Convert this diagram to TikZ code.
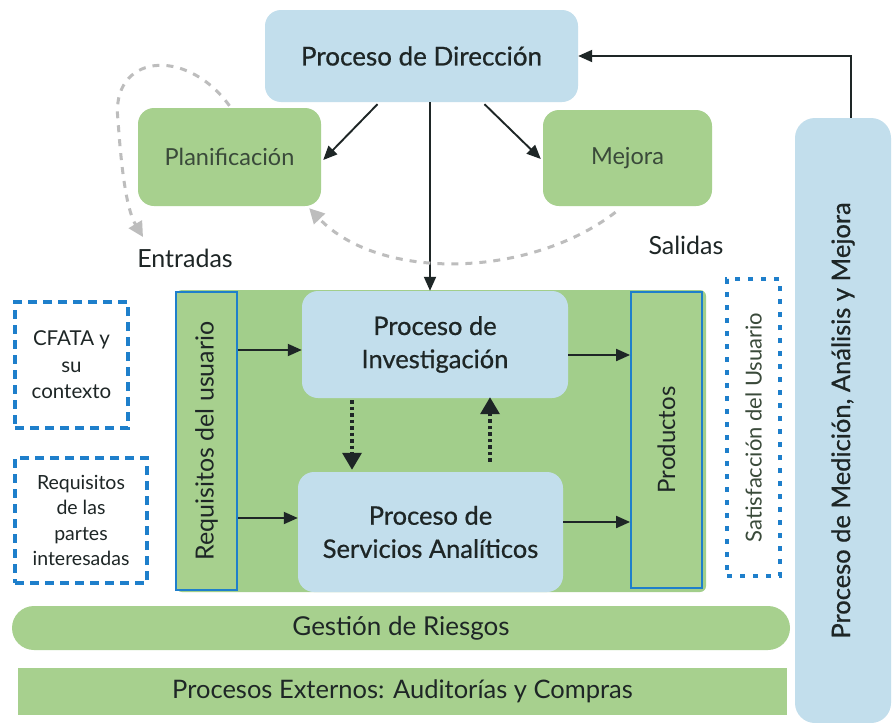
\documentclass[tikz,border=0pt]{standalone}
\usepackage{fontspec}
\setmainfont{Lato}
\newfontfamily\medfont{Lato}[FakeBold=0.7]
\usetikzlibrary{arrows.meta,calc}
\definecolor{procblue}{HTML}{C2DEEC}
\definecolor{procgreen}{HTML}{A7D08E}
\definecolor{areagreen}{HTML}{A2CE8B}
\definecolor{edgeblue}{HTML}{1E7FCB}
\definecolor{txtdark}{HTML}{1E2626}
\definecolor{txtsoft}{HTML}{3A4A3A}
\definecolor{loopgray}{HTML}{BDBDBD}
\newcommand{\fsz}[1]{\fontsize{#1}{1.3\dimexpr #1pt\relax}\selectfont}
\tikzset{
  bluebox/.style={fill=procblue, rounded corners=16pt, inner sep=0pt, text=txtdark, align=center},
  greenbox/.style={fill=procgreen, rounded corners=16pt, inner sep=0pt, text=txtsoft, align=center},
  reqbar/.style={fill=procgreen, draw=edgeblue, line width=1.8pt, inner sep=0pt},
  dashbox/.style={draw=edgeblue, line width=3.5pt, dash pattern=on 9pt off 6pt, fill=white, inner sep=0pt, align=center, text=txtdark},
  flow/.style={draw=txtdark, line width=1.9pt, -{Triangle[length=14pt,width=12pt]}},
  dotflow/.style={draw=txtdark, line width=3.5pt, dash pattern=on 3.5pt off 3pt, -{Triangle[length=17pt,width=19pt]}},
  loop/.style={draw=loopgray, line width=3pt, dash pattern=on 7pt off 7pt, -{Triangle[length=15pt,width=15pt]}},
  lbl/.style={text=txtdark, inner sep=0pt}
}
\begin{document}
\begin{tikzpicture}[x=1pt,y=-1pt]
\useasboundingbox (0,0) rectangle (892,723);
\fill[white] (0,0) rectangle (892,723);

% management level
\node[bluebox, minimum width=313pt, minimum height=92pt, font=\medfont\fsz{26}] (dir) at (421.5,56) {Proceso de Dirección};
\node[greenbox, minimum width=183pt, minimum height=98pt, font=\fsz{23.5}] (plan) at (229.5,157) {Planificación};
\node[greenbox, minimum width=169pt, minimum height=96pt, font=\fsz{23.5}] (mej) at (627.5,158) {Mejora};

% measurement column
\node[bluebox, rounded corners=20pt, minimum width=96pt, minimum height=605pt] (med) at (843,420.5) {};
\node[lbl, rotate=90, font=\medfont\fsz{25.5}] (medtxt) at (med.center) {Proceso de Medición, Análisis y Mejora};

% realisation area
\node[fill=areagreen, rounded corners=6pt, minimum width=530pt, minimum height=302pt, inner sep=0pt] (area) at (441,441) {};
\node[reqbar, minimum width=61pt, minimum height=298pt] (req) at (206.5,441) {};
\node[lbl, rotate=90, font=\fsz{25}] (reqtxt) at (req.center) {Requisitos del usuario};
\node[reqbar, minimum width=71pt, minimum height=296pt] (prod) at (666.5,440) {};
\node[lbl, rotate=90, font=\fsz{24}] (prodtxt) at (prod.center) {Productos};
\node[bluebox, minimum width=266pt, minimum height=107pt, font=\medfont\fsz{25.5}] (inv) at (435,344.5) {Proceso de\\Investigación};
\node[bluebox, minimum width=265pt, minimum height=120pt, font=\medfont\fsz{25.5}] (serv) at (430.5,532) {Proceso de\\Servicios Analíticos};

% context boxes
\node[dashbox, minimum width=113pt, minimum height=126pt, font=\fsz{20.5}] (cfata) at (71.5,365) {CFATA y\\su\\contexto};
\node[dashbox, minimum width=132pt, minimum height=125pt, font=\fsz{19.5}] (partes) at (81,520.5) {Requisitos\\de las\\partes\\interesadas};
\node[dashbox, dash pattern=on 5pt off 8pt, minimum width=53pt, minimum height=297pt] (sat) at (753.5,427.5) {};
\node[lbl, rotate=90, text=txtsoft, font=\fsz{22}] (sattxt) at (sat.center) {Satisfacción del Usuario};

% support bands
\node[fill=procgreen, rounded corners=22pt, minimum width=778pt, minimum height=44pt, inner sep=0pt, text=txtdark, font=\fsz{26}] (ries) at (401,628) {Gestión de Riesgos};
\node[fill=procgreen, minimum width=769pt, minimum height=47pt, inner sep=0pt, text=txtdark, font=\fsz{25.5}] (ext) at (402.5,691.5) {Procesos Externos: Auditorías y Compras};

% inputs and outputs labels
\node[lbl, font=\fsz{25}] (entr) at (185,258) {Entradas};
\node[lbl, font=\fsz{25}] (sal) at (686,245) {Salidas};

% direction arrows
\draw[flow] ($(dir.south)+(-44,2)$) -- ($(plan.east)+(2,3)$);
\draw[flow] ($(dir.south)+(63,2)$) -- ($(mej.west)+(-2,1)$);
\draw[flow] ($(inv.north |- dir.south)+(-5,0)$) -- ($(inv.north)+(-5,0)$);
\draw[flow] (med.north -| 851,0) |- (dir.east);

% inputs / outputs loops
\draw[loop] ($(plan.north)+(0,-2)$) .. controls (185,45) and (110,55) .. (118,120)
            .. controls (122,180) and (128,212) .. (143,237);
\draw[loop] ($(mej.south)+(-12,6)$) .. controls (530,278) and (380,282) .. ($(plan.south east)+(-12,2)$);

% flows inside the realisation area
\draw[flow] ($(req.east)+(0,-91)$) -- ($(inv.west)+(0,5.5)$);
\draw[flow] ($(req.east)+(0,77)$) -- ($(serv.west)+(0,-14)$);
\draw[flow] ($(inv.east)+(0,10.5)$) -- ($(prod.west)+(0,-85)$);
\draw[flow] ($(serv.east)+(0,-10)$) -- ($(prod.west)+(0,82)$);
\draw[dotflow] ($(inv.south)+(-83,2)$) -- ($(serv.north)+(-78.5,-2)$);
\draw[dotflow] ($(serv.north)+(59.5,-10)$) -- ($(inv.south)+(55,-1)$);
\end{tikzpicture}
\end{document}
